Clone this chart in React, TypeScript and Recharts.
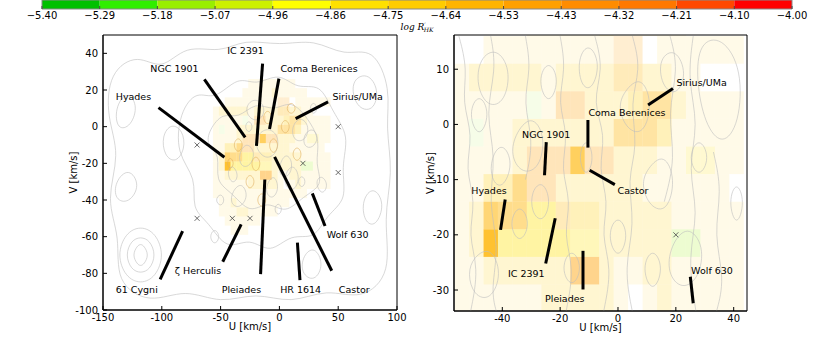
import React from 'react';
import {
  ComposedChart,
  Scatter,
  Line,
  XAxis,
  YAxis,
  ReferenceArea,
  ReferenceLine,
} from 'recharts';

const FONT = 'DejaVu Sans, sans-serif';

// colour bar: logR'HK classes
const cbLabels = ['−5.40', '−5.29', '−5.18', '−5.07', '−4.96', '−4.86', '−4.75', '−4.64', '−4.53', '−4.43', '−4.32', '−4.21', '−4.10', '−4.00'];
const cbColors = ['#00c000', '#30ee00', '#99ee00', '#ccf000', '#ffff00', '#ffe000', '#ffcc00', '#ffb400', '#ffa000', '#ff8c00', '#ff7800', '#ff4800', '#ff0000'];
const CB_MIN = -5.4;
const CB_MAX = -4.0;

// 5 km/s bins, rows from V = 26 downwards, columns from U = -56.5
const U_START = -56.5;
const V_TOP = 26;
const BIN = 5;

const cellCount = [
  [0, 0, 0, 0, 0, 0, 1, 1, 1, 1, 1, 1, 1, 1, 0, 0, 0, 0, 0, 0],
  [0, 0, 0, 0, 0, 1, 1, 1, 1, 1, 2, 1, 1, 1, 1, 1, 0, 0, 0, 0],
  [0, 0, 1, 1, 1, 1, 1, 1, 1, 1, 1, 2, 2, 0, 1, 1, 1, 1, 1, 1],
  [1, 2, 2, 2, 2, 2, 1, 2, 2, 2, 2, 3, 3, 2, 2, 1, 1, 0, 0, 0],
  [1, 1, 1, 1, 1, 1, 1, 3, 3, 2, 2, 2, 3, 4, 4, 2, 1, 1, 1, 1],
  [1, 1, 1, 1, 2, 2, 2, 2, 2, 2, 2, 4, 4, 4, 3, 1, 1, 1, 1, 1],
  [1, 1, 1, 1, 2, 3, 3, 3, 7, 3, 3, 2, 2, 2, 1, 1, 2, 2, 1, 1],
  [1, 1, 3, 3, 5, 3, 3, 2, 2, 2, 2, 2, 2, 1, 1, 1, 1, 1, 1, 0],
  [1, 2, 6, 5, 5, 4, 4, 3, 3, 3, 2, 2, 2, 2, 2, 1, 1, 1, 1, 1],
  [1, 2, 9, 4, 4, 4, 4, 4, 3, 3, 2, 2, 2, 2, 2, 2, 2, 1, 1, 1],
  [1, 1, 2, 2, 2, 2, 2, 2, 5, 5, 2, 1, 1, 2, 2, 1, 1, 1, 1, 1],
  [1, 1, 1, 1, 1, 1, 2, 2, 2, 2, 2, 1, 0, 1, 2, 1, 1, 1, 1, 1],
  [1, 1, 1, 1, 1, 1, 1, 1, 1, 1, 1, 1, 1, 1, 1, 1, 0, 0, 0, 0],
  [0, 1, 1, 2, 1, 1, 1, 1, 1, 1, 1, 1, 1, 0, 0, 0, 0, 0, 0, 0],
  [0, 1, 1, 1, 2, 2, 1, 1, 1, 1, 1, 0, 0, 0, 0, 0, 0, 0, 0, 0],
  [0, 0, 1, 1, 1, 1, 1, 1, 0, 0, 0, 0, 0, 0, 0, 0, 0, 0, 0, 0],
  [0, 0, 0, 1, 1, 1, 0, 0, 0, 0, 0, 0, 0, 0, 0, 0, 0, 0, 0, 0],
];

const Y = -4.72;
const cellValue = [
  [Y, Y, Y, Y, Y, Y, Y, Y, Y, Y, Y, Y, Y, Y, Y, Y, Y, Y, Y, Y],
  [Y, Y, Y, Y, Y, Y, Y, Y, Y, Y, Y, Y, Y, Y, Y, Y, Y, Y, Y, Y],
  [Y, Y, Y, Y, Y, Y, Y, Y, Y, Y, Y, -4.5, -4.5, Y, Y, Y, Y, Y, Y, Y],
  [Y, Y, Y, Y, Y, Y, Y, Y, Y, Y, Y, -4.6, -4.6, Y, Y, Y, Y, Y, Y, Y],
  [Y, Y, Y, Y, Y, -5.1, Y, -4.5, -4.5, Y, Y, Y, Y, -4.55, -4.55, Y, Y, Y, Y, Y],
  [Y, -5.1, Y, Y, -4.7, -4.7, -4.7, Y, Y, Y, Y, -4.55, -4.55, -4.55, Y, Y, Y, Y, Y, Y],
  [Y, Y, Y, Y, Y, -4.45, -4.45, -4.45, -4.55, -4.5, -4.5, Y, Y, Y, Y, Y, -4.85, -4.85, Y, Y],
  [Y, Y, -4.7, -4.7, -4.55, -4.45, -4.45, Y, Y, Y, Y, Y, Y, Y, Y, Y, Y, Y, Y, Y],
  [Y, Y, -4.58, -4.6, -4.58, -4.8, -4.8, -4.6, Y, Y, Y, Y, Y, Y, Y, Y, Y, Y, Y, Y],
  [Y, Y, -4.55, -4.8, -4.8, -4.8, -4.8, -4.8, -4.8, -4.8, Y, Y, Y, Y, Y, -5.1, -5.1, Y, Y, Y],
  [Y, Y, Y, Y, Y, Y, Y, Y, -4.52, -4.52, Y, Y, Y, Y, Y, Y, Y, Y, Y, Y],
  [Y, Y, Y, Y, Y, Y, Y, Y, Y, Y, Y, Y, Y, Y, Y, Y, Y, Y, Y, Y],
  [Y, Y, Y, Y, Y, Y, Y, Y, Y, Y, Y, Y, Y, Y, Y, Y, Y, Y, Y, Y],
  [Y, Y, Y, Y, Y, Y, Y, Y, Y, Y, Y, Y, Y, Y, Y, Y, Y, Y, Y, Y],
  [Y, Y, Y, Y, Y, Y, Y, Y, Y, Y, Y, Y, Y, Y, Y, Y, Y, Y, Y, Y],
  [Y, Y, Y, Y, Y, Y, Y, Y, Y, Y, Y, Y, Y, Y, Y, Y, Y, Y, Y, Y],
  [Y, Y, Y, Y, Y, Y, Y, Y, Y, Y, Y, Y, Y, Y, Y, Y, Y, Y, Y, Y],
];

type Arrow = { name: string; u1: number; v1: number; u2: number; v2: number };
type Tag = { name: string; u: number; v: number };

const leftArrows: Arrow[] = [
  { name: 'Hyades', u1: -102.8, v1: 10.4, u2: -46.8, v2: -16.7 },
  { name: 'NGC 1901', u1: -63.8, v1: 25.8, u2: -29.1, v2: -5.9 },
  { name: 'IC 2391', u1: -14.3, v1: 34.4, u2: -19.5, v2: -10.5 },
  { name: 'Coma Berenices', u1: -0.4, v1: 26.2, u2: -8.4, v2: -1.3 },
  { name: 'Sirius/UMa', u1: 41.4, v1: 13.5, u2: 13.8, v2: 4.4 },
  { name: 'Castor', u1: 44.5, v1: -78.6, u2: -4.1, v2: -16.5 },
  { name: 'Wolf 630', u1: 38.8, v1: -54.2, u2: 28, v2: -36.4 },
  { name: 'HR 1614', u1: 17.5, v1: -83.7, u2: 15.3, v2: -63.3 },
  { name: 'Pleiades', u1: -16, v1: -80.4, u2: -12.4, v2: -28.8 },
  { name: 'ζ Herculis', u1: -48.2, v1: -73.7, u2: -32.5, v2: -53.3 },
  { name: '61 Cygni', u1: -101.4, v1: -83.3, u2: -82.3, v2: -57 },
];

const leftTags: Tag[] = [
  { name: 'IC 2391', u: -28.8, v: 41.7 },
  { name: 'NGC 1901', u: -89.2, v: 31.6 },
  { name: 'Coma Berenices', u: 33.7, v: 31.6 },
  { name: 'Hyades', u: -124.1, v: 16.7 },
  { name: 'Sirius/UMa', u: 66.5, v: 16.7 },
  { name: 'Wolf 630', u: 58, v: -58.6 },
  { name: 'ζ Herculis', u: -69.2, v: -78.6 },
  { name: '61 Cygni', u: -121.3, v: -88.7 },
  { name: 'Pleiades', u: -32.3, v: -88.7 },
  { name: 'HR 1614', u: 18.1, v: -88.7 },
  { name: 'Castor', u: 63.6, v: -88.7 },
];

const rightArrows: Arrow[] = [
  { name: 'Sirius/UMa', u1: 19, v1: 6.5, u2: 10.4, v2: 3.5 },
  { name: 'Coma Berenices', u1: -10.4, v1: 0.8, u2: -10.4, v2: -4.2 },
  { name: 'NGC 1901', u1: -24.8, v1: -3.2, u2: -25.4, v2: -9.2 },
  { name: 'Castor', u1: -1.1, v1: -10.9, u2: -9.8, v2: -8.3 },
  { name: 'Hyades', u1: -39, v1: -13.6, u2: -40.6, v2: -19.1 },
  { name: 'IC 2391', u1: -25, v1: -25.2, u2: -21.7, v2: -17 },
  { name: 'Pleiades', u1: -12.1, v1: -29.9, u2: -12.1, v2: -22.9 },
  { name: 'Wolf 630', u1: 25, v1: -27.6, u2: 26, v2: -32.4 },
];

const rightTags: Tag[] = [
  { name: 'Sirius/UMa', u: 28.9, v: 7.6 },
  { name: 'Coma Berenices', u: 3.1, v: 2.1 },
  { name: 'NGC 1901', u: -24.8, v: -1.9 },
  { name: 'Castor', u: 5.2, v: -11.9 },
  { name: 'Hyades', u: -44.6, v: -12 },
  { name: 'IC 2391', u: -31.7, v: -27 },
  { name: 'Pleiades', u: -18.4, v: -31.5 },
  { name: 'Wolf 630', u: 32.5, v: -26.4 },
];

const crosses = [
  { u: -70, v: -10 },
  { u: 50, v: 0 },
  { u: 20, v: -20 },
  { u: 50, v: -25 },
  { u: -70, v: -50 },
  { u: -40, v: -50 },
  { u: -25, v: -50 },
];

// density contours, read off roughly as [U, V] vertices (first == last: closed)
const leftContours: number[][][] = [
  [[-145, 30], [-120, 40], [-100, 30], [-80, 45], [-50, 40], [-30, 48], [0, 44], [30, 48], [55, 38], [80, 44], [95, 20], [90, 0], [97, -25], [88, -50], [96, -80], [70, -95], [40, -88], [10, -97], [-20, -90], [-50, -97], [-80, -88], [-110, -97], [-140, -85], [-135, -60], [-148, -40], [-135, -15], [-147, 5], [-145, 30]],
  [[-85, 8], [-70, 20], [-55, 14], [-35, 28], [-20, 22], [0, 30], [15, 20], [35, 24], [45, 8], [60, -5], [52, -22], [58, -40], [40, -48], [30, -62], [10, -58], [-8, -70], [-25, -60], [-45, -68], [-60, -52], [-75, -45], [-70, -28], [-88, -15], [-85, 8]],
  [[-60, -2], [-48, 8], [-35, 4], [-20, 14], [-5, 8], [10, 15], [25, 4], [35, -8], [30, -20], [38, -32], [20, -38], [5, -48], [-10, -40], [-25, -48], [-40, -36], [-55, -30], [-50, -15], [-62, -10], [-60, -2]],
  [[-138, -70], [-131, -58], [-118, -54], [-105, -58], [-98, -70], [-105, -82], [-118, -86], [-131, -82], [-138, -70]],
  [[-131, -70], [-126, -62], [-118, -60], [-110, -62], [-105, -70], [-110, -78], [-118, -80], [-126, -78], [-131, -70]],
  [[-125, -70], [-121, -65], [-118, -64], [-115, -65], [-111, -70], [-115, -75], [-118, -76], [-121, -75], [-125, -70]],
  [[-100, -5], [-92, 2], [-82, -2], [-80, -12], [-88, -20], [-98, -16], [-100, -5]],
  [[-20, -5], [-10, 0], [0, -5], [-2, -15], [-12, -18], [-20, -12], [-20, -5]],
  [[5, -25], [12, -20], [18, -28], [12, -36], [4, -32], [5, -25]],
  [[-40, -35], [-32, -30], [-26, -38], [-34, -45], [-42, -42], [-40, -35]],
  [[60, 25], [75, 30], [85, 20], [80, 8], [65, 10], [60, 25]],
  [[20, -70], [30, -65], [38, -75], [30, -85], [18, -80], [20, -70]],
  [[-30, 10], [-22, 16], [-12, 12], [-14, 4], [-24, 3], [-30, 10]],
  [[10, 0], [18, 6], [26, 0], [22, -8], [12, -8], [10, 0]],
  [[-35, -15], [-28, -8], [-20, -14], [-25, -22], [-33, -22], [-35, -15]],
  [[0, -20], [6, -14], [12, -20], [8, -28], [0, -27], [0, -20]],
  [[-10, -30], [-4, -26], [0, -34], [-6, -40], [-12, -36], [-10, -30]],
  [[20, -5], [28, 0], [34, -6], [28, -12], [21, -11], [20, -5]],
  [[-45, -25], [-40, -20], [-34, -27], [-40, -32], [-45, -25]],
  [[30, -30], [36, -26], [42, -32], [36, -38], [30, -30]],
  [[-140, 10], [-130, 20], [-120, 12], [-126, 0], [-138, -2], [-140, 10]],
  [[-140, -30], [-128, -22], [-118, -32], [-128, -42], [-140, -40], [-140, -30]],
  [[70, -40], [80, -32], [90, -42], [82, -55], [72, -52], [70, -40]],
  [[-30, 0], [-26, 4], [-22, 0], [-26, -4], [-30, 0]],
  [[15, -30], [19, -26], [23, -30], [19, -34], [15, -30]],
  [[-5, -45], [-1, -41], [3, -45], [-1, -49], [-5, -45]],
  [[25, 10], [29, 14], [33, 10], [29, 6], [25, 10]],
  [[-55, -40], [-50, -36], [-46, -40], [-50, -44], [-55, -40]],
  [[-60, -60], [-55, -55], [-50, -60], [-55, -65], [-60, -60]],
];

// contours of the active (coloured) sample in the crowded centre
const leftWarmContours: number[][][] = [
  [[-40, -10], [-35, -5], [-30, -10], [-35, -15], [-40, -10]],
  [[-25, -20], [-20, -15], [-15, -20], [-20, -26], [-25, -20]],
  [[-10, -10], [-5, -5], [0, -10], [-5, -16], [-10, -10]],
  [[0, 0], [5, 5], [10, 0], [5, -5], [0, 0]],
  [[-15, 5], [-10, 10], [-5, 5], [-10, 0], [-15, 5]],
  [[-30, -30], [-25, -25], [-20, -30], [-25, -35], [-30, -30]],
  [[10, -15], [15, -10], [20, -15], [15, -20], [10, -15]],
  [[-45, -20], [-42, -16], [-38, -20], [-42, -24], [-45, -20]],
  [[-20, -40], [-15, -35], [-10, -40], [-15, -45], [-20, -40]],
  [[5, 10], [10, 14], [15, 10], [10, 6], [5, 10]],
];

const rightContours: number[][][] = [
  [[-55, 16], [-52, 10], [-54, 4], [-50, -2], [-53, -8], [-49, -14], [-52, -20], [-48, -26], [-51, -34]],
  [[-48, 12], [-42, 14], [-37, 10], [-39, 4], [-45, 3], [-49, 7], [-48, 12]],
  [[-36, -2], [-30, 2], [-25, -2], [-27, -8], [-33, -9], [-37, -6], [-36, -2]],
  [[-20, 16], [-18, 10], [-21, 4], [-17, -2], [-20, -8], [-16, -14], [-19, -20], [-15, -26], [-18, -34]],
  [[-8, 16], [-5, 10], [-9, 4], [-4, -2], [-7, -8], [-3, -14], [-6, -20], [-2, -26], [-5, -34]],
  [[2, 6], [8, 9], [12, 4], [9, -2], [3, -1], [0, 3], [2, 6]],
  [[28, 15], [36, 16], [43, 10], [42, 0], [36, -4], [30, 0], [27, 8], [28, 15]],
  [[10, -8], [16, -5], [20, -10], [17, -16], [11, -15], [8, -11], [10, -8]],
  [[-50, -24], [-44, -22], [-40, -27], [-44, -32], [-50, -31], [-52, -27], [-50, -24]],
  [[18, -22], [24, -18], [30, -22], [28, -28], [22, -30], [17, -27], [18, -22]],
  [[-30, -12], [-26, -10], [-23, -14], [-26, -18], [-30, -16], [-30, -12]],
  [[5, 16], [8, 10], [4, 4], [7, -4], [3, -10], [6, -18], [2, -26], [5, -34]],
  [[33, -5], [36, -12], [33, -20], [37, -28], [34, -34]],
  [[-44, -6], [-40, -3], [-36, -7], [-40, -12], [-44, -10], [-44, -6]],
  [[-14, 12], [-10, 15], [-6, 11], [-9, 6], [-13, 7], [-14, 12]],
  [[14, 12], [20, 14], [24, 9], [20, 5], [15, 7], [14, 12]],
  [[-28, 8], [-24, 12], [-20, 8], [-24, 3], [-28, 8]],
  [[-4, -20], [0, -16], [4, -20], [0, -25], [-4, -20]],
  [[-38, -18], [-34, -14], [-30, -18], [-34, -22], [-38, -18]],
  [[24, -6], [28, -2], [32, -6], [28, -10], [24, -6]],
  [[-32, 16], [-30, 10], [-33, 4], [-29, -3], [-32, -10]],
  [[18, 16], [21, 10], [17, 2], [20, -6], [16, -14]],
  [[-44, 16], [-42, 10], [-46, 2], [-42, -6], [-45, -14], [-41, -22], [-44, -30], [-42, -34]],
  [[26, 16], [24, 8], [28, 0], [24, -8], [28, -16], [24, -24], [27, -34]],
  [[-14, -6], [-11, -2], [-8, -6], [-11, -10], [-14, -6]],
  [[-20, -26], [-16, -22], [-12, -26], [-16, -30], [-20, -26]],
  [[8, -26], [12, -22], [16, -26], [12, -31], [8, -26]],
  [[38, -14], [41, -10], [44, -14], [41, -19], [38, -14]],
  [[-52, 2], [-48, 6], [-44, 2], [-48, -3], [-52, 2]],
];

function cmap(value: number) {
  const k = Math.floor((value - CB_MIN) / ((CB_MAX - CB_MIN) / cbColors.length));
  return cbColors[Math.max(0, Math.min(cbColors.length - 1, k))];
}

const cells = cellCount.flatMap((row, r) =>
  row
    .map((n, c) => ({
      u0: U_START + c * BIN,
      v0: V_TOP - (r + 1) * BIN,
      n,
      value: cellValue[r][c],
    }))
    .filter((d) => d.n > 0)
);

function contourSeries(loop: number[][]) {
  const first = loop[0];
  const last = loop[loop.length - 1];
  const closed = first[0] === last[0] && first[1] === last[1];
  const pts = (closed ? loop.slice(0, -1) : loop).map(([u, v]) => ({ u, v }));
  return { pts, closed };
}

const TagShape = (p: any) => (
  <text
    x={p.cx}
    y={p.cy}
    textAnchor="middle"
    dominantBaseline="central"
    fontSize={9.5}
    fontFamily={FONT}
    fill="#000"
  >
    {p.payload.name}
  </text>
);

const CrossShape = (p: any) => (
  <g stroke="#444" strokeWidth={0.8}>
    <line x1={p.cx - 2.5} y1={p.cy - 2.5} x2={p.cx + 2.5} y2={p.cy + 2.5} />
    <line x1={p.cx - 2.5} y1={p.cy + 2.5} x2={p.cx + 2.5} y2={p.cy - 2.5} />
  </g>
);

const NoDot = () => <g />;

function CbLabel(p: any) {
  const vb = p.viewBox;
  return (
    <text
      x={vb.x + vb.width / 2}
      y={vb.y + 21}
      textAnchor="middle"
      fontFamily="DejaVu Serif, serif"
      fontStyle="italic"
      fontSize={9}
      fill="#000"
    >
      log R
      <tspan dy={-3} fontSize={6}>′</tspan>
      <tspan dy={5} dx={-2} fontSize={6}>HK</tspan>
    </text>
  );
}

const cbSpan = [
  { k: 0, y: 0 },
  { k: cbColors.length, y: 1 },
];

function Colorbar() {
  const idx = cbLabels.map((_, i) => i);
  return (
    <ComposedChart width={830} height={36} margin={{ top: 0, right: 38, bottom: 0, left: 42 }} data={cbSpan}>
      <XAxis
        type="number"
        dataKey="k"
        domain={[0, cbColors.length]}
        allowDataOverflow
        ticks={idx}
        interval={0}
        tickFormatter={(i: number) => cbLabels[i]}
        height={27}
        tickSize={-3}
        tickMargin={6}
        axisLine={false}
        tickLine={{ stroke: '#444' }}
        tick={{ fontSize: 10, fill: '#000', fontFamily: FONT }}
        label={(p: any) => <CbLabel {...p} />}
      />
      <YAxis type="number" dataKey="y" domain={[0, 1]} allowDataOverflow hide />
      {cbColors.map((c, i) => (
        <ReferenceArea key={c} x1={i} x2={i + 1} y1={0} y2={1} fill={c} fillOpacity={1} stroke="none" ifOverflow="visible" />
      ))}
      <ReferenceArea x1={0} x2={cbColors.length} y1={0} y2={1} fill="none" stroke="#888" ifOverflow="visible" />
      <Scatter dataKey="y" shape={NoDot} isAnimationActive={false} />
    </ComposedChart>
  );
}

type PanelProps = {
  width: number;
  margin: { top: number; right: number; bottom: number; left: number };
  xDomain: [number, number];
  yDomain: [number, number];
  xTicks: number[];
  yTicks: number[];
  yAxisWidth: number;
  arrows: Arrow[];
  tags: Tag[];
  contours: number[][][];
  warmContours: number[][][];
};

function renderContours(list: number[][][], prefix: string, stroke: string) {
  return list.map((loop, i) => {
    const { pts, closed } = contourSeries(loop);
    return (
      <Line
        key={`${prefix}${i}`}
        data={pts}
        dataKey="v"
        type={closed ? 'basisClosed' : 'basis'}
        stroke={stroke}
        strokeWidth={0.6}
        dot={false}
        activeDot={false}
        isAnimationActive={false}
      />
    );
  });
}

function Panel({ width, margin, xDomain, yDomain, xTicks, yTicks, yAxisWidth, arrows, tags, contours, warmContours }: PanelProps) {
  const tickStyle = { fontSize: 10, fill: '#000', fontFamily: FONT };
  return (
    <ComposedChart width={width} height={346} margin={margin}>
      <XAxis
        type="number"
        dataKey="u"
        domain={xDomain}
        ticks={xTicks}
        interval={0}
        allowDataOverflow
        height={20}
        tickSize={-4}
        tickMargin={7.5}
        stroke="#000"
        tick={tickStyle}
        label={{ value: 'U [km/s]', position: 'insideBottom', offset: 0, fontSize: 10, fill: '#000', fontFamily: FONT }}
      />
      <YAxis
        type="number"
        dataKey="v"
        domain={yDomain}
        ticks={yTicks}
        interval={0}
        allowDataOverflow
        width={yAxisWidth}
        tickSize={-4}
        tickMargin={9}
        stroke="#000"
        tick={tickStyle}
        label={{ value: 'V [km/s]', angle: -90, position: 'center', fontSize: 10, fill: '#000', fontFamily: FONT }}
      />
      {cells.map((d) => (
        <ReferenceArea
          key={`${d.u0}_${d.v0}`}
          x1={d.u0}
          x2={d.u0 + BIN}
          y1={d.v0}
          y2={d.v0 + BIN}
          fill={cmap(d.value)}
          fillOpacity={Math.min(1, d.n * 0.09)}
          stroke="none"
          ifOverflow="hidden"
        />
      ))}
      {renderContours(contours, 'g', '#bdbdbd')}
      {renderContours(warmContours, 'w', '#e0b060')}
      <ReferenceArea
        x1={xDomain[0]}
        x2={xDomain[1]}
        y1={yDomain[0]}
        y2={yDomain[1]}
        fill="none"
        stroke="#000"
        strokeWidth={1}
        ifOverflow="visible"
      />
      {arrows.map((a) => (
        <ReferenceLine
          key={a.name}
          segment={[
            { x: a.u1, y: a.v1 },
            { x: a.u2, y: a.v2 },
          ]}
          stroke="#000"
          strokeWidth={3}
          ifOverflow="visible"
        />
      ))}
      <Scatter data={crosses} dataKey="v" shape={CrossShape} isAnimationActive={false} />
      <Scatter data={tags} dataKey="v" shape={TagShape} isAnimationActive={false} />
    </ComposedChart>
  );
}

export default function App() {
  return (
    <div style={{ position: 'absolute', left: 0, top: 0, width: 830, height: 346, background: '#fff' }}>
      <div style={{ position: 'absolute', left: 0, top: 0 }}>
        <Colorbar />
      </div>
      <div style={{ position: 'absolute', left: 0, top: 0 }}>
        <Panel
          width={420}
          margin={{ top: 35, right: 23, bottom: 16, left: 43 }}
          xDomain={[-150, 100]}
          yDomain={[-100, 50]}
          xTicks={[-150, -100, -50, 0, 50, 100]}
          yTicks={[-100, -80, -60, -40, -20, 0, 20, 40]}
          yAxisWidth={60}
          arrows={leftArrows}
          tags={leftTags}
          contours={leftContours}
          warmContours={leftWarmContours}
        />
      </div>
      <div style={{ position: 'absolute', left: 400, top: 0 }}>
        <Panel
          width={430}
          margin={{ top: 35, right: 83, bottom: 15, left: 6 }}
          xDomain={[-56.7, 44.6]}
          yDomain={[-33.8, 16.2]}
          xTicks={[-40, -20, 0, 20, 40]}
          yTicks={[-30, -20, -10, 0, 10]}
          yAxisWidth={48}
          arrows={rightArrows}
          tags={rightTags}
          contours={rightContours}
          warmContours={[]}
        />
      </div>
    </div>
  );
}
